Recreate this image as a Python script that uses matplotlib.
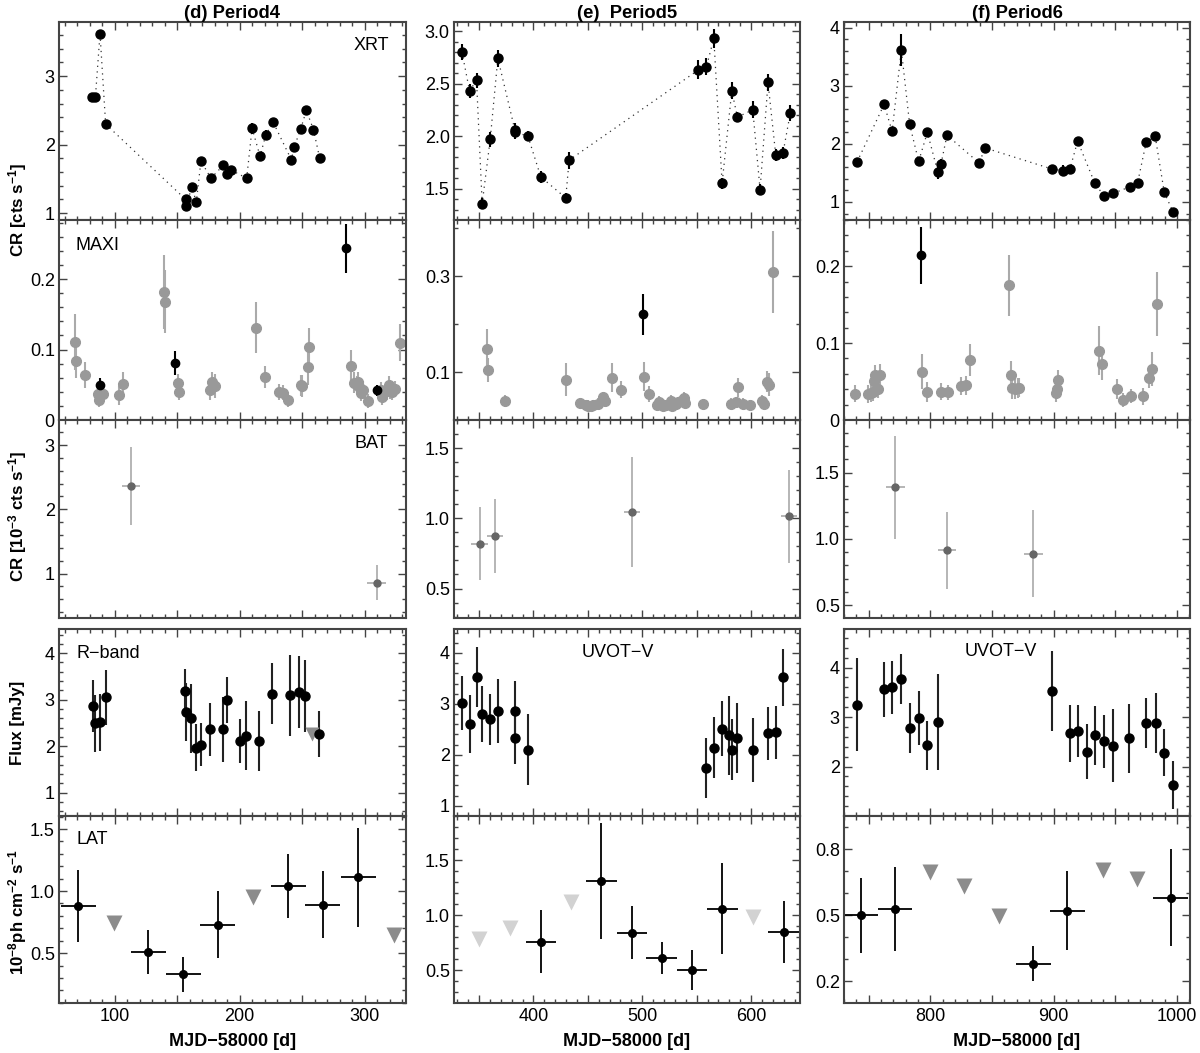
import matplotlib.pyplot as plt
from matplotlib.ticker import MultipleLocator, FuncFormatter

plt.rcParams['font.family'] = ['Liberation Sans', 'DejaVu Sans']
plt.rcParams['mathtext.fontset'] = 'custom'
plt.rcParams['mathtext.rm'] = 'Liberation Sans'
plt.rcParams['mathtext.bf'] = 'Liberation Sans:bold'
plt.rcParams['mathtext.default'] = 'bf'

# ---------------- data (MJD-58000) ----------------
# XRT count rates
p4_xrt_t = [82.0, 84.6, 88.3, 92.8, 156.8, 156.8, 161.9, 165.3, 169.0, 177.0, 187.0, 190.0,
            193.0, 205.6, 209.9, 216.3, 220.8, 226.7, 241.3, 243.5, 248.8, 253.3, 259.0, 264.0]
p4_xrt_cr = [2.69, 2.69, 3.62, 2.30, 1.20, 1.10, 1.38, 1.16, 1.76, 1.51, 1.70, 1.57,
             1.63, 1.51, 2.24, 1.83, 2.14, 2.33, 1.78, 1.96, 2.23, 2.50, 2.22, 1.80]
p4_xrt_err = [0.04, 0.04, 0.05, 0.05, 0.04, 0.04, 0.04, 0.04, 0.05, 0.04, 0.05, 0.04,
              0.05, 0.04, 0.08, 0.05, 0.07, 0.05, 0.04, 0.07, 0.05, 0.05, 0.05, 0.04]

p5_xrt_t = [334.3, 341.3, 347.7, 352.9, 360.3, 367.3, 382.9, 383.5, 394.9, 406.8, 429.7, 432.8,
            551.7, 559.0, 565.8, 573.4, 582.3, 587.5, 601.6, 608.3, 615.6, 622.7, 629.4, 636.1]
p5_xrt_cr = [2.80, 2.43, 2.53, 1.357, 1.97, 2.74, 2.06, 2.035, 2.00, 1.61, 1.41, 1.77,
             2.63, 2.66, 2.93, 1.55, 2.43, 2.18, 2.25, 1.49, 2.51, 1.82, 1.84, 2.22]
p5_xrt_err = [0.08, 0.07, 0.07, 0.05, 0.07, 0.08, 0.06, 0.06, 0.05, 0.06, 0.05, 0.08,
              0.09, 0.08, 0.09, 0.05, 0.08, 0.05, 0.08, 0.05, 0.08, 0.06, 0.06, 0.08]

p6_xrt_t = [740.6, 762.5, 769.0, 776.5, 783.2, 790.5, 797.6, 806.0, 808.6, 813.5, 839.4, 844.6,
            898.3, 907.8, 913.2, 919.4, 933.2, 940.5, 948.3, 961.6, 968.0, 975.0, 982.3, 989.6, 996.7]
p6_xrt_cr = [1.69, 2.68, 2.22, 3.62, 2.34, 1.70, 2.20, 1.52, 1.65, 2.15, 1.675, 1.93,
             1.57, 1.54, 1.57, 2.05, 1.33, 1.11, 1.15, 1.26, 1.33, 2.03, 2.13, 1.17, 0.83]
p6_xrt_err = [0.07, 0.07, 0.08, 0.28, 0.07, 0.06, 0.05, 0.13, 0.09, 0.07, 0.05, 0.06,
              0.05, 0.10, 0.05, 0.05, 0.05, 0.04, 0.04, 0.05, 0.04, 0.05, 0.06, 0.05, 0.04]

# MAXI count rates (grey: low significance, black: high significance)
p4_maxi_t = [68.3, 69.0, 76.3, 86.7, 87.5, 88.9, 91.0, 103.5, 106.4, 139.5, 140.5, 150.4, 151.7,
             176.5, 177.6, 180.0, 212.8, 220.5, 231.7, 235.0, 239.0, 249.0, 250.0, 255.0, 255.8,
             288.8, 291.4, 293.5, 294.8, 296.0, 297.3, 298.4, 303.0, 312.9, 314.1, 318.0, 319.2,
             320.5, 321.6, 324.5, 328.0]
p4_maxi_cr = [0.111, 0.084, 0.064, 0.037, 0.029, 0.038, 0.037, 0.035, 0.051, 0.182, 0.168, 0.052, 0.040,
              0.043, 0.054, 0.048, 0.131, 0.061, 0.040, 0.039, 0.029, 0.049, 0.048, 0.075, 0.103,
              0.076, 0.053, 0.050, 0.054, 0.045, 0.038, 0.043, 0.027, 0.042, 0.032, 0.041, 0.050,
              0.043, 0.040, 0.044, 0.110]
p4_maxi_err = [0.040, 0.025, 0.019, 0.012, 0.010, 0.012, 0.012, 0.013, 0.017, 0.053, 0.045, 0.014, 0.012,
               0.015, 0.014, 0.017, 0.036, 0.016, 0.011, 0.011, 0.011, 0.015, 0.016, 0.025, 0.027,
               0.024, 0.015, 0.013, 0.014, 0.014, 0.011, 0.013, 0.010, 0.012, 0.010, 0.013, 0.012,
               0.013, 0.012, 0.012, 0.026]
p4_maxi_blk_t = [88.3, 148.5, 284.8, 309.9]
p4_maxi_blk_cr = [0.049, 0.081, 0.244, 0.042]
p4_maxi_blk_err = [0.010, 0.017, 0.035, 0.008]

p5_maxi_t = [356.9, 358.2, 374.0, 430.0, 443.1, 448.3, 450.5, 452.9, 454.5, 459.0, 463.9, 465.4,
             472.2, 480.2, 501.3, 506.1, 513.2, 515.6, 516.8, 519.3, 522.3, 526.3, 527.8, 530.9,
             533.0, 536.0, 538.3, 539.3, 556.0, 582.0, 586.0, 588.4, 592.4, 599.4, 610.0, 611.5,
             615.0, 616.4, 620.2]
p5_maxi_cr = [0.149, 0.105, 0.040, 0.084, 0.036, 0.031, 0.030, 0.029, 0.031, 0.034, 0.047, 0.040,
              0.088, 0.063, 0.090, 0.054, 0.031, 0.038, 0.034, 0.029, 0.031, 0.040, 0.030, 0.034,
              0.037, 0.040, 0.045, 0.036, 0.033, 0.034, 0.037, 0.068, 0.034, 0.032, 0.040, 0.034,
              0.080, 0.074, 0.309]
p5_maxi_err = [0.040, 0.025, 0.012, 0.035, 0.010, 0.010, 0.011, 0.011, 0.010, 0.011, 0.012, 0.013,
               0.030, 0.018, 0.030, 0.016, 0.012, 0.012, 0.011, 0.010, 0.010, 0.012, 0.011, 0.011,
               0.011, 0.012, 0.013, 0.012, 0.011, 0.011, 0.011, 0.020, 0.011, 0.010, 0.012, 0.011,
               0.022, 0.025, 0.085]
p5_maxi_blk_t = [500.3]
p5_maxi_blk_cr = [0.220]
p5_maxi_blk_err = [0.042]

p6_maxi_t = [739.2, 749.8, 752.2, 753.3, 754.4, 755.4, 757.3, 759.0, 793.0, 797.3, 808.6, 814.0,
             824.6, 828.9, 831.9, 863.8, 865.6, 866.4, 868.6, 871.0, 871.8, 901.6, 902.7, 903.5,
             936.4, 939.4, 951.5, 956.1, 962.6, 972.6, 977.2, 979.6, 983.4]
p6_maxi_cr = [0.034, 0.034, 0.035, 0.037, 0.051, 0.058, 0.040, 0.058, 0.063, 0.037, 0.037, 0.036,
              0.044, 0.045, 0.078, 0.175, 0.058, 0.041, 0.040, 0.041, 0.042, 0.035, 0.040, 0.052,
              0.090, 0.073, 0.040, 0.026, 0.031, 0.031, 0.055, 0.066, 0.151]
p6_maxi_err = [0.011, 0.012, 0.012, 0.012, 0.012, 0.014, 0.012, 0.015, 0.023, 0.013, 0.011, 0.010,
               0.012, 0.012, 0.021, 0.040, 0.019, 0.014, 0.013, 0.013, 0.012, 0.012, 0.012, 0.013,
               0.032, 0.021, 0.013, 0.009, 0.009, 0.011, 0.014, 0.022, 0.042]
p6_maxi_blk_t = [792.1]
p6_maxi_blk_cr = [0.214]
p6_maxi_blk_err = [0.037]

# BAT count rates (10^-3 cts/s)
p4_bat_t = [113.0, 309.6]
p4_bat_cr = [2.36, 0.86]
p4_bat_err = [0.61, 0.27]
p5_bat_t = [350.5, 364.6, 490.8, 634.9]
p5_bat_cr = [0.82, 0.874, 1.046, 1.015]
p5_bat_err = [0.26, 0.26, 0.39, 0.33]
p6_bat_t = [771.6, 813.5, 883.5]
p6_bat_cr = [1.39, 0.915, 0.89]
p6_bat_err = [0.39, 0.29, 0.33]
bat_bin_half = 7.5

# optical flux (mJy): R-band for period 4, UVOT-V for periods 5 and 6
p4_opt_t = [82.4, 84.6, 88.3, 92.8, 156.5, 156.8, 161.3, 165.0, 168.8, 176.5, 186.7, 189.6,
            200.0, 205.0, 215.5, 225.6, 240.2, 247.8, 252.6, 263.2]
p4_opt_f = [2.87, 2.49, 2.51, 3.05, 3.19, 2.73, 2.60, 1.97, 2.03, 2.36, 2.36, 2.99,
            2.11, 2.23, 2.11, 3.13, 3.10, 3.17, 3.08, 2.26]
p4_opt_err = [0.56, 0.61, 0.62, 0.59, 0.47, 0.62, 0.74, 0.50, 0.46, 0.56, 0.70, 0.49,
              0.48, 0.74, 0.64, 0.65, 0.87, 0.77, 0.78, 0.50]
p4_opt_ul_t = [258.1]
p4_opt_ul = [2.27]

p5_opt_t = [334.3, 341.3, 347.7, 352.9, 360.3, 367.3, 382.9, 383.5, 394.9, 559.0, 566.0, 573.4,
            580.2, 582.6, 587.5, 601.8, 615.6, 623.0, 629.7]
p5_opt_f = [3.01, 2.61, 3.52, 2.80, 2.70, 2.86, 2.86, 2.33, 2.10, 1.74, 2.14, 2.51,
            2.38, 2.10, 2.33, 2.10, 2.42, 2.44, 3.52]
p5_opt_err = [0.53, 0.57, 0.59, 0.55, 0.50, 0.62, 0.58, 0.51, 0.70, 0.59, 0.60, 0.54,
              0.78, 0.60, 0.69, 0.63, 0.52, 0.52, 0.56]

p6_opt_t = [740.8, 762.5, 769.0, 776.5, 783.2, 790.5, 797.6, 806.2, 898.3, 913.2, 919.7, 926.7,
            933.2, 940.5, 948.1, 961.3, 975.0, 982.6, 989.6, 996.9]
p6_opt_f = [3.25, 3.56, 3.60, 3.77, 2.78, 2.98, 2.43, 2.90, 3.53, 2.67, 2.72, 2.30,
            2.63, 2.51, 2.42, 2.57, 2.88, 2.88, 2.28, 1.63]
p6_opt_err = [0.94, 0.55, 0.54, 0.50, 0.50, 0.55, 0.50, 0.97, 0.81, 0.58, 0.53, 0.56,
              0.60, 0.54, 0.74, 0.70, 0.50, 0.60, 0.48, 0.48]

# LAT photon flux (10^-8 ph/cm2/s), 28-day bins
p4_lat_t = [70.7, 127.0, 155.0, 182.4, 238.9, 266.4, 294.7]
p4_lat_f = [0.88, 0.51, 0.33, 0.73, 1.04, 0.89, 1.11]
p4_lat_err = [0.29, 0.18, 0.14, 0.27, 0.255, 0.27, 0.40]
p4_lat_ul_t = [99.2, 210.6, 323.4]
p4_lat_ul = [0.74, 0.95, 0.65]

p5_lat_t = [406.8, 462.4, 490.8, 517.8, 545.6, 573.7, 630.0]
p5_lat_f = [0.76, 1.31, 0.84, 0.61, 0.50, 1.06, 0.85]
p5_lat_err = [0.285, 0.53, 0.24, 0.145, 0.18, 0.41, 0.28]
p5_lat_ul_t = [350.2, 378.9, 434.6, 602.2]
p5_lat_ul = [0.78, 0.885, 1.12, 0.98]

p6_lat_t = [743.5, 771.4, 883.5, 911.0, 994.8]
p6_lat_f = [0.50, 0.529, 0.28, 0.52, 0.579]
p6_lat_err = [0.17, 0.19, 0.08, 0.18, 0.22]
p6_lat_ul_t = [799.4, 827.3, 855.4, 939.6, 967.5]
p6_lat_ul = [0.695, 0.635, 0.495, 0.705, 0.665]
lat_bin_half = 14.0

titles = ['(d) Period4', '(e)  Period5', '(f) Period6']
opt_names = ['R\u2212band', 'UVOT\u2212V', 'UVOT\u2212V']

# ---------------- axis settings ----------------
xlims = [(55.5, 333), (327, 645), (730, 1010.5)]

xrt_ylim = [(0.9, 3.79), (1.2, 3.086), (0.69, 4.1)]
xrt_yticks = [[1, 2, 3], [1.5, 2.0, 2.5, 3.0], [1, 2, 3, 4]]
xrt_ylab = [['1', '2', '3'], ['1.5', '2.0', '2.5', '3.0'], ['1', '2', '3', '4']]
xrt_minor = [0.2, 0.1, 0.2]

maxi_ylim = [(0, 0.284), (0, 0.417), (0, 0.26)]
maxi_yticks = [[0, 0.1, 0.2], [0.1, 0.3], [0, 0.1, 0.2]]
maxi_ylab = [['0', '0.1', '0.2'], ['0.1', '0.3'], ['0', '0.1', '0.2']]
maxi_minor = [0.02, 0.1, 0.02]

bat_ylim = [(0.31, 3.39), (0.29, 1.70), (0.404, 1.897)]
bat_yticks = [[1, 2, 3], [0.5, 1.0, 1.5], [0.5, 1.0, 1.5]]
bat_ylab = [['1', '2', '3'], ['0.5', '1.0', '1.5'], ['0.5', '1.0', '1.5']]
bat_minor = [0.2, 0.1, 0.1]

opt_ylim = [(0.5, 4.52), (0.8, 4.47), (1.0, 4.78)]
opt_yticks = [[1, 2, 3, 4], [1, 2, 3, 4], [2, 3, 4]]
opt_ylab = [['1', '2', '3', '4'], ['1', '2', '3', '4'], ['2', '3', '4']]
opt_minor = [0.2, 0.2, 0.2]

lat_ylim = [(0.098, 1.605), (0.203, 1.9), (0.101, 0.951)]
lat_yticks = [[0.5, 1.0, 1.5], [0.5, 1.0, 1.5], [0.2, 0.5, 0.8]]
lat_ylab = [['0.5', '1.0', '1.5'], ['0.5', '1.0', '1.5'], ['0.2', '0.5', '0.8']]
lat_minor = [0.1, 0.1, 0.1]
lat_ul_colors = ['#8c8c8c', '#d2d2d2', '#8c8c8c']

W, H = 1200, 1053
col_left = [59, 454, 844]
col_right = [406, 800, 1190]
row_top = [22, 220, 420, 629, 816]
row_bot = [220, 420, 618, 816, 1003]

fig = plt.figure(figsize=(12, 10.53), dpi=100)
AX = '#444444'


def make_ax(r, c, ylim, yticks, ylab, yminor):
    ax = fig.add_axes([col_left[c] / W, 1 - row_bot[r] / H,
                       (col_right[c] - col_left[c]) / W, (row_bot[r] - row_top[r]) / H])
    ax.set_xlim(xlims[c])
    ax.set_ylim(ylim)
    ax.xaxis.set_major_locator(MultipleLocator(50))
    ax.xaxis.set_minor_locator(MultipleLocator(10))
    ax.set_yticks(yticks, ylab)
    ax.yaxis.set_minor_locator(MultipleLocator(yminor))
    ax.tick_params(which='both', direction='in', top=True, right=True,
                   color=AX, width=1.0, labelsize=13)
    ax.tick_params(which='major', length=6)
    ax.tick_params(which='minor', length=3)
    ax.tick_params(axis='y', pad=3)
    if r == 4:
        ax.xaxis.set_major_formatter(FuncFormatter(
            lambda v, p: f'{v:.0f}' if round(v) % 100 == 0 else ''))
    else:
        ax.tick_params(labelbottom=False)
    for s in ax.spines.values():
        s.set_linewidth(1.5)
        s.set_color(AX)
    return ax


xrt_data = [(p4_xrt_t, p4_xrt_cr, p4_xrt_err), (p5_xrt_t, p5_xrt_cr, p5_xrt_err),
            (p6_xrt_t, p6_xrt_cr, p6_xrt_err)]
maxi_data = [(p4_maxi_t, p4_maxi_cr, p4_maxi_err, p4_maxi_blk_t, p4_maxi_blk_cr, p4_maxi_blk_err),
             (p5_maxi_t, p5_maxi_cr, p5_maxi_err, p5_maxi_blk_t, p5_maxi_blk_cr, p5_maxi_blk_err),
             (p6_maxi_t, p6_maxi_cr, p6_maxi_err, p6_maxi_blk_t, p6_maxi_blk_cr, p6_maxi_blk_err)]
bat_data = [(p4_bat_t, p4_bat_cr, p4_bat_err), (p5_bat_t, p5_bat_cr, p5_bat_err),
            (p6_bat_t, p6_bat_cr, p6_bat_err)]
opt_data = [(p4_opt_t, p4_opt_f, p4_opt_err), (p5_opt_t, p5_opt_f, p5_opt_err),
            (p6_opt_t, p6_opt_f, p6_opt_err)]
lat_data = [(p4_lat_t, p4_lat_f, p4_lat_err, p4_lat_ul_t, p4_lat_ul),
            (p5_lat_t, p5_lat_f, p5_lat_err, p5_lat_ul_t, p5_lat_ul),
            (p6_lat_t, p6_lat_f, p6_lat_err, p6_lat_ul_t, p6_lat_ul)]

for c in range(3):
    # XRT
    ax = make_ax(0, c, xrt_ylim[c], xrt_yticks[c], xrt_ylab[c], xrt_minor[c])
    t, cr, e = xrt_data[c]
    ax.plot(t, cr, color='#333333', lw=0.9, ls=(0, (1, 3.5)))
    ax.errorbar(t, cr, yerr=e, fmt='o', color='k', ms=6.5, elinewidth=1.5, capsize=0)
    if c == 0:
        ax.text(0.90, 0.879, 'XRT', transform=ax.transAxes, ha='center', va='center', fontsize=13)

    # MAXI
    ax = make_ax(1, c, maxi_ylim[c], maxi_yticks[c], maxi_ylab[c], maxi_minor[c])
    t, cr, e, tb, crb, eb = maxi_data[c]
    ax.errorbar(t, cr, yerr=e, fmt='o', mfc='#999999', mec='#999999', ecolor='#aaaaaa',
                ms=7, elinewidth=1.5, capsize=0)
    ax.errorbar(tb, crb, yerr=eb, fmt='o', color='k', ms=6, elinewidth=1.5, capsize=0)
    if c == 0:
        ax.text(0.112, 0.87, 'MAXI', transform=ax.transAxes, ha='center', va='center', fontsize=13)

    # BAT
    ax = make_ax(2, c, bat_ylim[c], bat_yticks[c], bat_ylab[c], bat_minor[c])
    t, cr, e = bat_data[c]
    ax.errorbar(t, cr, yerr=e, xerr=bat_bin_half, fmt='o', mfc='#666666', mec='#666666',
                ecolor='#b0b0b0', ms=5, elinewidth=1.3, capsize=0)
    if c == 0:
        ax.text(0.90, 0.881, 'BAT', transform=ax.transAxes, ha='center', va='center', fontsize=13)

    # optical
    ax = make_ax(3, c, opt_ylim[c], opt_yticks[c], opt_ylab[c], opt_minor[c])
    t, f, e = opt_data[c]
    ax.errorbar(t, f, yerr=e, fmt='o', color='k', ecolor='#222222', ms=6.5,
                elinewidth=1.5, capsize=0)
    if c == 0:
        ax.plot(p4_opt_ul_t, p4_opt_ul, 'v', color='#8c8c8c', ms=10, mec='none')
    opt_pos = [(0.141, 0.869), (0.473, 0.874), (0.452, 0.882)]
    ax.text(opt_pos[c][0], opt_pos[c][1], opt_names[c], transform=ax.transAxes,
            ha='center', va='center', fontsize=13)

    # LAT
    ax = make_ax(4, c, lat_ylim[c], lat_yticks[c], lat_ylab[c], lat_minor[c])
    t, f, e, tu, fu = lat_data[c]
    ax.plot(tu, fu, 'v', color=lat_ul_colors[c], ms=12, mec='none')
    ax.errorbar(t, f, yerr=e, xerr=lat_bin_half, fmt='o', color='k', ms=5.5,
                elinewidth=1.3, capsize=0)
    if c == 0:
        ax.text(0.095, 0.877, 'LAT', transform=ax.transAxes, ha='center', va='center', fontsize=13)

    xc = (col_left[c] + col_right[c]) / 2 / W
    fig.text(xc, 1 - 13 / H, titles[c], ha='center', va='center', fontsize=13.2, fontweight='bold')
    fig.text(xc, 1 - 1042 / H, 'MJD\u221258000 [d]', ha='center', va='center',
             fontsize=13, fontweight='bold')

ylabels = [('CR [cts s$^{-1}$]', 210), ('CR [10$^{-3}$ cts s$^{-1}$]', 516),
           ('Flux [mJy]', 723), ('10$^{-8}$ph cm$^{-2}$ s$^{-1}$', 912)]
for txt, yc in ylabels:
    fig.text(18 / W, 1 - yc / H, txt, rotation=90, ha='center', va='center',
             fontsize=12.2, fontweight='bold')

fig.savefig('out.png', dpi=100)
